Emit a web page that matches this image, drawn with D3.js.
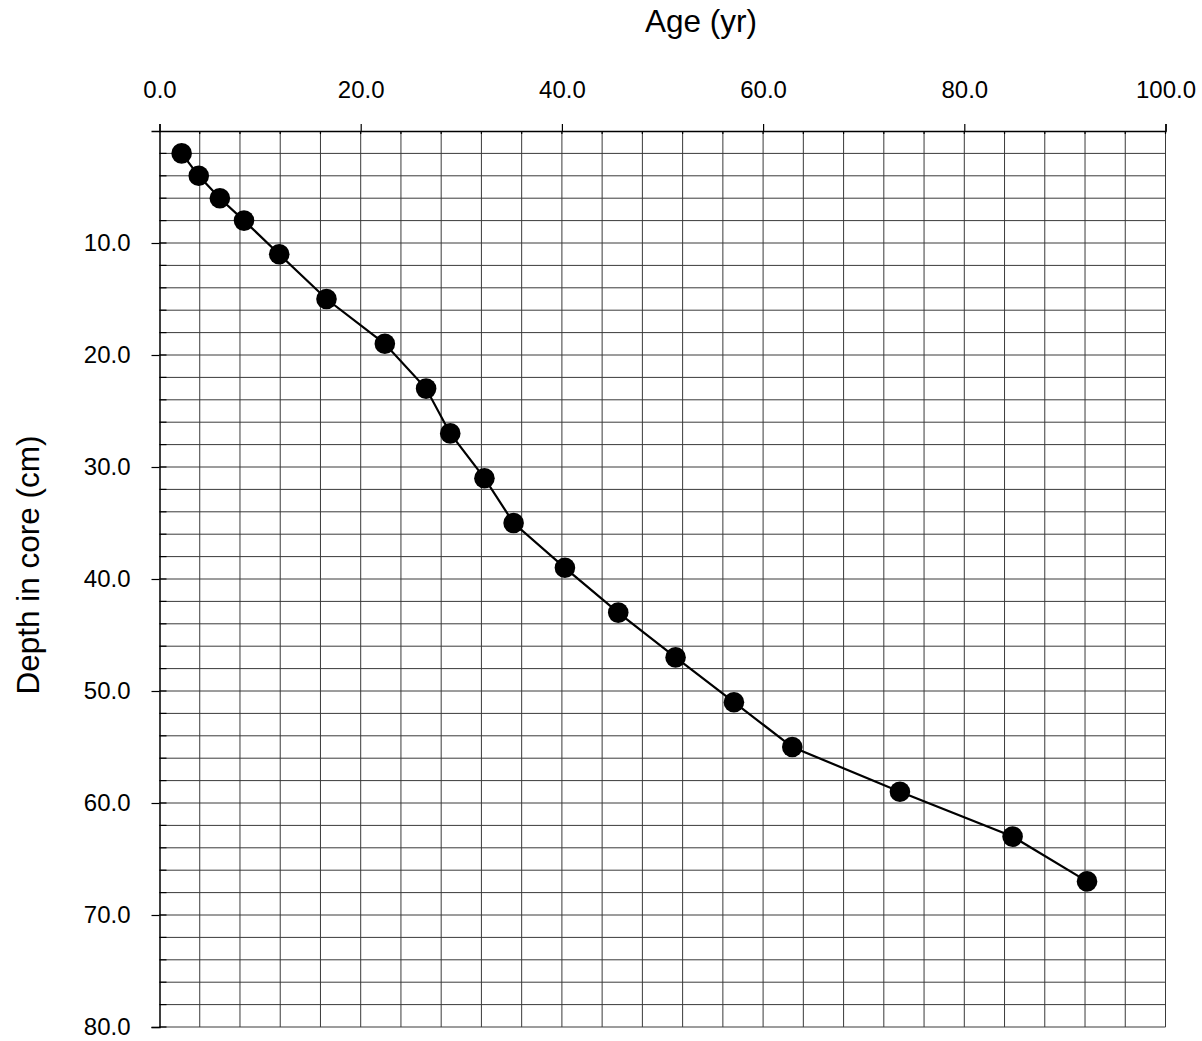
<!DOCTYPE html>
<html>
<head>
<meta charset="utf-8">
<script src="https://cdn.jsdelivr.net/npm/d3@7"></script>
<style>
  html, body { margin: 0; padding: 0; background: #fff; }
  svg { display: block; font-family: "Liberation Sans", Arial, sans-serif; }
</style>
</head>
<body>
<svg id="chart" width="1202" height="1041"></svg>
<script>
// Sediment core age–depth profile
const depthCm = [2, 4, 6, 8, 11, 15, 19, 23, 27, 31, 35, 39, 43, 47, 51, 55, 59, 63, 67];
const ageYr   = [2.2, 3.9, 6.0, 8.4, 11.9, 16.6, 22.4, 26.5, 28.9, 32.3, 35.2, 40.3, 45.6, 51.3, 57.1, 62.9, 73.6, 84.8, 92.2];
const ageTicks   = [0, 20, 40, 60, 80, 100];
const depthTicks = [10, 20, 30, 40, 50, 60, 70, 80];
const xTitle = "Age (yr)";
const yTitle = "Depth in core (cm)";

const svg = d3.select("#chart");
const plotLeft = 159.5, plotRight = 1165.5, plotTop = 131, plotBottom = 1027;

const x = d3.scaleLinear().domain([0, 100]).range([plotLeft, plotRight]);
const y = d3.scaleLinear().domain([0, 80]).range([plotTop, plotBottom]);

// grid: every 4 yr and every 2 cm
const grid = svg.append("g").attr("stroke", "#3a3a3a").attr("stroke-width", 1);
grid.selectAll("line.v").data(d3.range(4, 100.1, 4)).join("line")
  .attr("class", "v")
  .attr("x1", d => x(d)).attr("x2", d => x(d))
  .attr("y1", plotTop).attr("y2", plotBottom);
grid.selectAll("line.h").data(d3.range(2, 80.1, 2)).join("line")
  .attr("class", "h")
  .attr("x1", plotLeft).attr("x2", plotRight)
  .attr("y1", d => y(d)).attr("y2", d => y(d));

// minor inner ticks
const minor = svg.append("g").attr("stroke", "#000").attr("stroke-width", 1.2);
minor.selectAll("line.mx").data(d3.range(4, 100.1, 4)).join("line")
  .attr("x1", d => x(d)).attr("x2", d => x(d))
  .attr("y1", plotTop).attr("y2", plotTop + 3);
minor.selectAll("line.my").data(d3.range(2, 80.1, 2)).join("line")
  .attr("x1", plotLeft).attr("x2", plotLeft + 7)
  .attr("y1", d => y(d)).attr("y2", d => y(d));

// axes
const xAxis = d3.axisTop(x).tickValues(ageTicks).tickFormat(d3.format(".1f"))
  .tickSize(7).tickPadding(26);
const gx = svg.append("g").attr("transform", `translate(0,${plotTop})`).call(xAxis);

const yAxis = d3.axisLeft(y).tickValues(depthTicks).tickFormat(d3.format(".1f"))
  .tickSize(8).tickPadding(21);
const gy = svg.append("g").attr("transform", `translate(${plotLeft},0)`).call(yAxis);

[gx, gy].forEach(g => {
  g.select(".domain").attr("stroke", "#000").attr("stroke-width", 1.5);
  g.selectAll(".tick line").attr("stroke", "#000").attr("stroke-width", 1.2);
  g.selectAll(".tick text").attr("fill", "#000")
    .style("font-size", "24px")
    .style("font-family", "'Liberation Sans', Arial, sans-serif");
});

// axis titles
svg.append("text")
  .attr("x", 701).attr("y", 32)
  .attr("text-anchor", "middle")
  .style("font-size", "31.5px")
  .text(xTitle);
svg.append("text")
  .attr("transform", "translate(39,565) rotate(-90)")
  .attr("text-anchor", "middle")
  .style("font-size", "31.5px")
  .text(yTitle);

// profile line and markers
const pts = depthCm.map((d, i) => ({ depth: d, age: ageYr[i] }));
const line = d3.line().x(d => x(d.age)).y(d => y(d.depth));
svg.append("path").datum(pts)
  .attr("d", line)
  .attr("fill", "none")
  .attr("stroke", "#000")
  .attr("stroke-width", 2.2);
svg.append("g").selectAll("circle").data(pts).join("circle")
  .attr("cx", d => x(d.age))
  .attr("cy", d => y(d.depth))
  .attr("r", 10.3)
  .attr("fill", "#000");
</script>
</body>
</html>
